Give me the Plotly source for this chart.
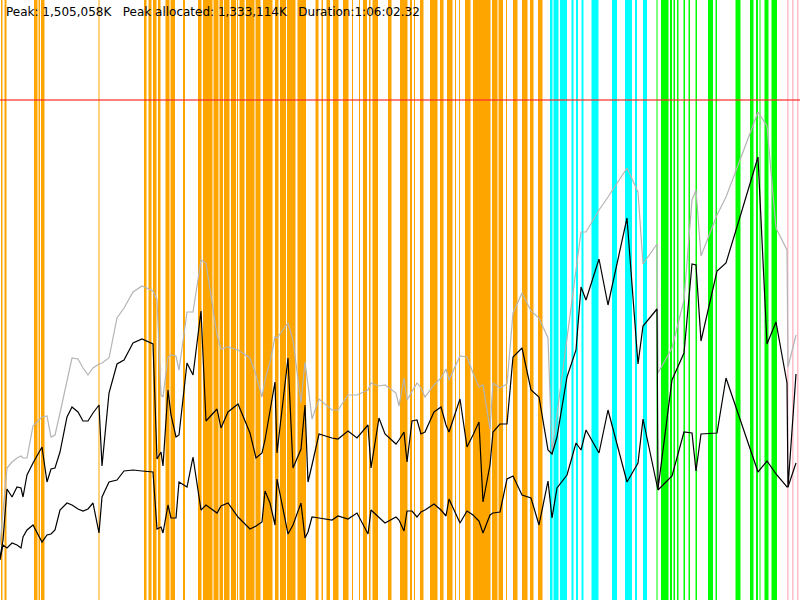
import plotly.graph_objects as go

# sample times (0..800 = full run duration) and memory levels (arbitrary units, 0..600)
t = [0,3,7,12,17,21,23,27,33,42,47,51,55,60,67,72,78,83,88,93,99,102,109,117,124,133,142,153,157,161,163,168,171,176,179,187,193,201,206,217,221,228,238,250,256,262,265,270,275,277,288,293,301,305,308,312,319,332,338,348,357,368,371,379,385,396,399,404,407,412,417,421,425,434,441,446,449,460,467,473,479,483,490,493,500,507,513,522,531,539,548,552,557,567,572,576,581,586,599,608,627,638,643,657,658,672,684,692,696,701,717,726,740,758,767,776,787,788,796]

peak_total = [55,90,132,138,142,144,142,142,174,183,184,163,165,187,220,242,241,232,225,232,236,237,242,282,292,308,314,309,300,205,203,243,245,244,230,288,288,340,337,265,251,253,250,242,225,203,220,238,263,262,277,260,197,238,215,181,201,190,190,205,205,210,217,214,215,207,194,222,200,208,217,212,203,215,222,231,220,244,243,227,213,215,171,217,212,216,287,307,289,282,262,148,187,264,303,330,368,368,390,403,432,408,336,356,227,252,300,400,410,344,385,403,440,488,474,372,350,233,265]

allocated = [42,60,111,103,113,112,103,125,137,153,118,131,132,148,183,193,188,179,179,187,195,134,207,236,240,257,261,256,141,148,134,210,185,163,165,237,225,289,179,191,172,188,196,167,142,147,160,190,218,147,242,132,151,195,118,135,166,162,161,169,162,175,132,182,166,156,160,168,138,179,180,166,168,188,193,175,168,201,153,165,178,98,135,168,176,176,243,252,210,203,150,146,163,223,238,250,313,300,341,295,382,236,274,291,111,220,247,336,335,259,329,337,383,443,256,278,217,113,226]

live = [40,55,52,57,55,52,63,70,75,58,65,66,70,90,97,95,91,89,91,97,67,103,118,120,129,130,129,128,71,73,67,95,82,82,118,113,143,90,95,87,94,97,83,71,74,78,109,97,75,121,66,75,97,62,68,83,82,80,84,81,87,66,90,83,77,83,80,69,89,89,83,88,90,96,90,84,101,77,89,85,79,67,85,87,88,121,124,105,102,75,119,82,112,125,142,157,150,170,147,190,118,137,181,113,110,124,168,167,129,166,167,222,181,128,139,126,113,113,137]

limit_level = 500

# event intervals (start, end) on the same time scale
orange_start = [1,4.5,34,38.5,41,98.5,144,148.5,153,158,165.5,170.5,183,198,203,213.5,219.5,224,231,237,239.5,246,255.5,263,275,280,287,297.5,315.5,321.5,326.5,333,343,352,359,363,369,372.5,388,400,410,414,420,430,440,447,455,459,465,473,492,498.5,506,513,522,530,538]
orange_end   = [2.5,6.5,37.5,40,44.5,99.5,146.5,151.5,156.5,160.5,169.5,175,185,201.5,212.5,218.5,223,229.5,236,238,244.5,254.5,260.5,272.5,278.5,286,295.5,306,318.5,323,330,338.5,348.5,353,360,367,370.5,378,391.5,407.5,412,415,423.5,437.5,443.5,452.5,456,460,470.5,490.5,497.5,503,507,517.5,527.5,533.5,542.5]
cyan_start = [550,553.5,560,571.5,576,581.5,591.5,612,625,635,643]
cyan_end   = [552.5,558.5,567,573.5,578,583.5,598.5,617,632,637,647]
green_start = [656.5,661,670,673.5,677,683.5,688.5,695.5,708,715.5,735.5,750,756,759.5,764.5,771.5]
green_end   = [657.5,668.5,672,675,678.5,685,690,697,713,717,740.5,753.5,758,760.5,768.5,777]
pink_start = [787,792,797]
pink_end   = [788.5,793.5,798.5]

header = "Peak: 1,505,058K   Peak allocated: 1,333,114K   Duration:1:06:02.32"

fig = go.Figure()

shapes = []
for starts, ends, col in [(orange_start, orange_end, "#FFA500"),
                          (cyan_start, cyan_end, "#00FFFF"),
                          (green_start, green_end, "#00FF00"),
                          (pink_start, pink_end, "#FFC0CB")]:
    for s, e in zip(starts, ends):
        shapes.append(dict(type="rect", xref="x", yref="paper", x0=s, x1=e, y0=0, y1=1,
                           fillcolor=col, line=dict(width=0), layer="below"))
shapes.append(dict(type="line", xref="paper", yref="y", x0=0, x1=1, y0=limit_level, y1=limit_level,
                   line=dict(color="rgba(255,40,40,0.6)", width=2), layer="below"))

fig.add_trace(go.Scatter(x=t, y=peak_total, mode="lines", line=dict(color="#b4b4b4", width=1.2), hoverinfo="skip"))
fig.add_trace(go.Scatter(x=t, y=allocated, mode="lines", line=dict(color="#000000", width=1.2), hoverinfo="skip"))
fig.add_trace(go.Scatter(x=t, y=live, mode="lines", line=dict(color="#000000", width=1.2), hoverinfo="skip"))

fig.update_layout(
    width=800, height=600,
    margin=dict(l=0, r=0, t=0, b=0),
    paper_bgcolor="white", plot_bgcolor="white",
    showlegend=False,
    shapes=shapes,
    xaxis=dict(range=[0, 800], visible=False, fixedrange=True),
    yaxis=dict(range=[0, 600], visible=False, fixedrange=True),
    annotations=[dict(text=header.replace(" ", "\u00a0"), xref="paper", yref="paper", x=0, y=1,
                      xanchor="left", yanchor="top", xshift=4, yshift=-3, showarrow=False,
                      font=dict(family="DejaVu Sans", size=12, color="black"))],
)

fig.write_html("out.html", config={"displayModeBar": False})

# remove the default page margin so the 800x600 figure fills the window exactly
with open("out.html", encoding="utf-8") as f:
    html = f.read()
html = html.replace("<head>", "<head><style>html,body{margin:0;padding:0;overflow:hidden;}</style>", 1)
with open("out.html", "w", encoding="utf-8") as f:
    f.write(html)
